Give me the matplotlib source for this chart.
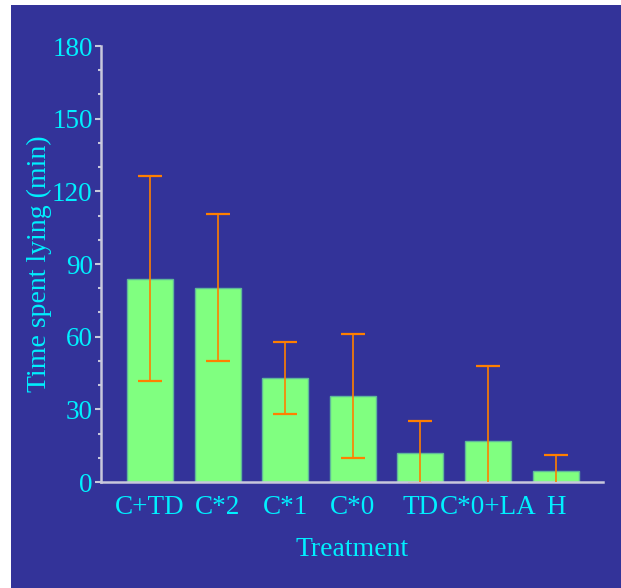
import matplotlib
matplotlib.use("Agg")
import matplotlib.pyplot as plt
from matplotlib.patches import Rectangle
from matplotlib.ticker import MultipleLocator

categories = ["C+TD", "C*2", "C*1", "C*0", "TD", "C*0+LA", "H"]
means = [84.0, 80.2, 42.8, 35.4, 12.1, 17.1, 4.4]
sds = [42.3, 30.4, 14.9, 25.5, 13.1, 30.8, 6.7]
y_ticks = [0, 30, 60, 90, 120, 150, 180]

W, H = 621, 588
fig = plt.figure(figsize=(W / 100, H / 100), dpi=100, facecolor="white")
fig.patches.append(Rectangle((11 / W, 0), 1 - 11 / W, 1 - 5 / H,
                             transform=fig.transFigure, facecolor="#333399",
                             edgecolor="none", zorder=-10))

ax = fig.add_axes([101 / W, 1 - 482 / H, (603 - 101) / W, (482 - 46) / H])
ax.set_zorder(5)
ax.set_facecolor("none")

font = "Liberation Serif"
cyan = "#00F0FF"
axis_col = "#C8C8DC"

x = list(range(len(categories)))
ax.bar(x, means, width=0.68, color="#80FF80", edgecolor="#5FB89A",
       linewidth=1, zorder=2)
ax.errorbar(x, means, yerr=sds, fmt="none", ecolor="#FF7F00",
            elinewidth=1.2, capsize=8.3, capthick=1.6, zorder=3)

ax.set_xlim(-0.725, 6.70)
ax.set_ylim(0, 180)
ax.set_yticks(y_ticks)
ax.yaxis.set_minor_locator(MultipleLocator(10))
ax.set_xticks(x)
ax.set_xticklabels(categories)

for s in ["top", "right"]:
    ax.spines[s].set_visible(False)
for s in ["left", "bottom"]:
    ax.spines[s].set_color(axis_col)
    ax.spines[s].set_linewidth(1.8)

ax.tick_params(axis="y", which="major", length=4, width=1.5, color=axis_col,
               labelsize=19.5, labelcolor=cyan, pad=2)
ax.tick_params(axis="y", which="minor", length=2.5, width=1.5, color=axis_col)
ax.tick_params(axis="x", length=0, labelsize=19.5, labelcolor=cyan, pad=9)
for lab in ax.get_xticklabels() + ax.get_yticklabels():
    lab.set_fontfamily(font)

fig.text(39 / W, 1 - 264 / H, "Time spent lying (min)", rotation=90,
         ha="center", va="center", color=cyan, fontsize=20, fontfamily=font)
fig.text(352 / W, 1 - 549 / H, "Treatment", ha="center", va="center",
         color=cyan, fontsize=20, fontfamily=font)

fig.savefig("out.png", dpi=100, facecolor="white")
